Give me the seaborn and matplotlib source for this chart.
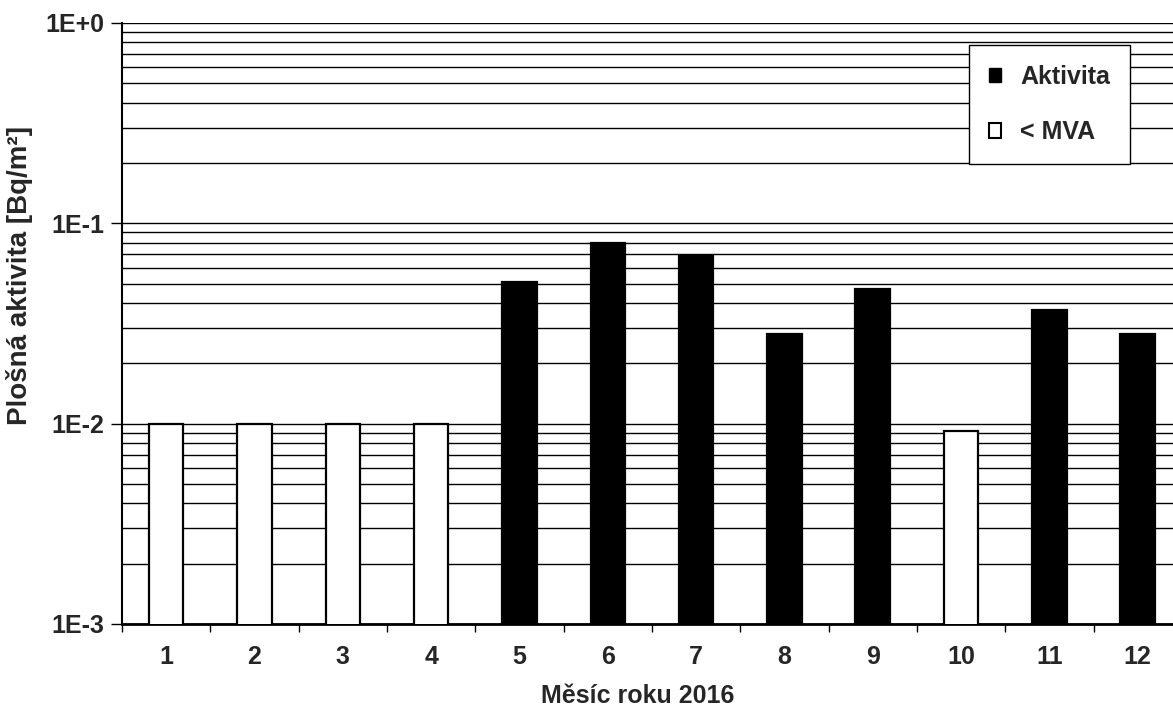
import matplotlib.pyplot as plt
import matplotlib.ticker as mticker
from matplotlib.patches import Patch
import seaborn as sns
import pandas as pd

# Data
mesice = [str(m) for m in range(1, 13)]
hodnoty = [0.010, 0.010, 0.010, 0.010, 0.051, 0.080, 0.069, 0.028, 0.047, 0.0092, 0.037, 0.028]
stav = ['< MVA', '< MVA', '< MVA', '< MVA', 'Aktivita', 'Aktivita', 'Aktivita', 'Aktivita',
        'Aktivita', '< MVA', 'Aktivita', 'Aktivita']

df = pd.DataFrame({'Měsíc': mesice, 'Hodnota': hodnoty, 'Stav': stav})

sns.set_style('white')
plt.rcParams['font.family'] = ['Liberation Sans', 'DejaVu Sans']
plt.rcParams['font.weight'] = 'bold'
fs = 18

fig = plt.figure(figsize=(11.73, 7.11), dpi=100)
ax = fig.add_axes([0.104, 0.1224, 0.896, 0.8453])
ax.set_yscale('log')

sns.barplot(data=df, x='Měsíc', y='Hodnota', hue='Stav', dodge=False, width=0.39,
            palette={'Aktivita': 'black', '< MVA': 'white'}, edgecolor='black',
            linewidth=1.6, legend=False, ax=ax, zorder=3)

ax.set_ylim(1e-3, 1)
ax.set_xlim(-0.5, 11.4)

# y axis: decades labelled like the original, all minor lines as grid
ax.yaxis.set_minor_locator(mticker.LogLocator(base=10, subs=range(2, 10)))
ax.set_yticks([1e-3, 1e-2, 1e-1, 1])
ax.set_yticklabels(['1E-3', '1E-2', '1E-1', '1E+0'], fontsize=fs, fontweight='bold')
ax.yaxis.set_minor_formatter(mticker.NullFormatter())
ax.grid(True, which='both', axis='y', color='black', linewidth=1.0)
ax.tick_params(axis='y', which='major', direction='out', length=8, width=1, color='black', left=True, pad=5)
ax.tick_params(axis='y', which='minor', left=False)

# x axis: labels at centres, tick marks between categories
ax.set_xticks(range(12))
ax.set_xticklabels(mesice, fontsize=fs, fontweight='bold')
ax.tick_params(axis='x', which='major', length=0, pad=15)
ax.set_xticks([i - 0.5 for i in range(12)], minor=True)
ax.tick_params(axis='x', which='minor', direction='out', length=6, width=1, color='black', bottom=True)

for s in ['top', 'right']:
    ax.spines[s].set_visible(False)
ax.spines['left'].set_color('black')
ax.spines['left'].set_linewidth(1.5)
ax.spines['bottom'].set_color('black')
ax.spines['bottom'].set_linewidth(2)

ax.set_xlabel('Měsíc roku 2016', fontsize=fs, fontweight='bold')
ax.xaxis.set_label_coords(0.491, -0.1)
ax.set_ylabel('Plošná aktivita [Bq/m²]', fontsize=20, fontweight='bold')
ax.yaxis.set_label_coords(-0.085, 0.579)

handles = [Patch(facecolor='black', edgecolor='black', label='Aktivita'),
           Patch(facecolor='white', edgecolor='black', linewidth=1.5, label='< MVA')]
leg = ax.legend(handles=handles, loc='upper right', bbox_to_anchor=(0.959, 0.963),
                borderaxespad=0, fancybox=False, framealpha=1, edgecolor='black',
                handlelength=0.5, handleheight=0.5, handletextpad=0.75, labelspacing=1.25,
                borderpad=0.8, prop={'size': fs, 'weight': 'bold'})
leg.get_frame().set_linewidth(1.0)
leg.set_zorder(5)

fig.savefig('out.png', dpi=100)
